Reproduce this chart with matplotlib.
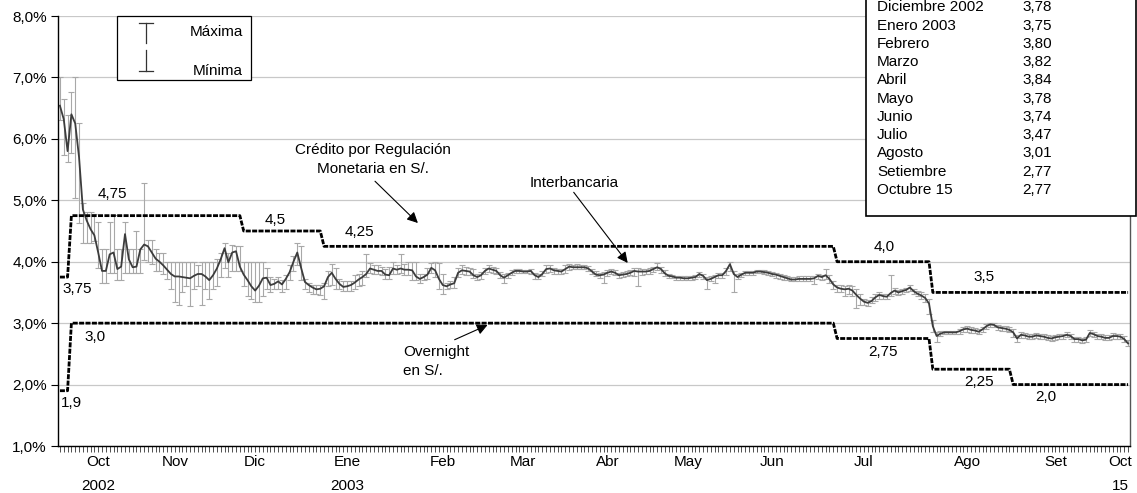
import numpy as np
import matplotlib
from matplotlib import pyplot as plt
from matplotlib.patches import Rectangle
from matplotlib.lines import Line2D

matplotlib.rcParams.update({'font.size': 11, 'font.family': ['Liberation Sans', 'DejaVu Sans']})

# tasa interbancaria promedio diaria (%), dias habiles desde mediados de set 2002
interbancaria = [
    6.54, 6.32, 5.80, 6.40, 6.25, 5.70, 4.85, 4.67, 4.53, 4.43,
    4.15, 3.85, 3.85, 4.12, 4.15, 3.88, 3.92, 4.45, 4.04, 3.91,
    3.92, 4.20, 4.28, 4.25, 4.15, 4.05, 4.00, 3.94, 3.87, 3.80,
    3.76, 3.76, 3.75, 3.74, 3.73, 3.77, 3.80, 3.80, 3.76, 3.70,
    3.78, 3.89, 4.04, 4.22, 3.99, 4.15, 4.17, 3.92, 3.79, 3.70,
    3.60, 3.53, 3.61, 3.73, 3.74, 3.62, 3.64, 3.68, 3.63, 3.72,
    3.83, 4.00, 4.15, 3.90, 3.67, 3.62, 3.58, 3.55, 3.56, 3.60,
    3.75, 3.82, 3.72, 3.64, 3.59, 3.60, 3.62, 3.66, 3.71, 3.75,
    3.80, 3.89, 3.87, 3.85, 3.85, 3.79, 3.78, 3.89, 3.87, 3.89,
    3.87, 3.87, 3.86, 3.76, 3.72, 3.75, 3.79, 3.90, 3.86, 3.72,
    3.62, 3.60, 3.63, 3.65, 3.82, 3.86, 3.85, 3.84, 3.78, 3.75,
    3.78, 3.85, 3.89, 3.87, 3.85, 3.78, 3.74, 3.78, 3.82, 3.85,
    3.85, 3.84, 3.84, 3.85, 3.78, 3.75, 3.80, 3.88, 3.89, 3.86,
    3.85, 3.84, 3.88, 3.92, 3.91, 3.91, 3.91, 3.91, 3.89, 3.84,
    3.79, 3.78, 3.79, 3.82, 3.84, 3.82, 3.78, 3.79, 3.80, 3.82,
    3.85, 3.84, 3.84, 3.84, 3.85, 3.88, 3.91, 3.88, 3.81, 3.77,
    3.76, 3.74, 3.74, 3.73, 3.73, 3.74, 3.75, 3.80, 3.77, 3.70,
    3.72, 3.75, 3.78, 3.78, 3.85, 3.96, 3.80, 3.75, 3.79, 3.82,
    3.82, 3.82, 3.84, 3.84, 3.83, 3.82, 3.80, 3.79, 3.77, 3.75,
    3.73, 3.71, 3.71, 3.72, 3.72, 3.72, 3.72, 3.73, 3.77, 3.75,
    3.78, 3.72, 3.63, 3.58, 3.56, 3.55, 3.56, 3.53, 3.46, 3.40,
    3.35, 3.33, 3.36, 3.42, 3.46, 3.44, 3.43, 3.49, 3.53, 3.50,
    3.52, 3.54, 3.58, 3.52, 3.48, 3.45, 3.41, 3.32, 2.95, 2.79,
    2.83, 2.85, 2.85, 2.85, 2.85, 2.87, 2.90, 2.91, 2.89, 2.88,
    2.86, 2.90, 2.95, 2.98, 2.97, 2.93, 2.92, 2.91, 2.89, 2.85,
    2.75, 2.81, 2.80, 2.78, 2.78, 2.80, 2.79, 2.78, 2.76, 2.75,
    2.77, 2.78, 2.79, 2.81, 2.79, 2.74, 2.74, 2.72, 2.73, 2.84,
    2.82, 2.79, 2.78, 2.76, 2.76, 2.79, 2.79, 2.78, 2.74, 2.67,
]

maxima = [
    7.00, 6.65, 6.39, 6.77, 7.00, 6.26, 4.95, 4.81, 4.81, 4.78,
    4.65, 4.21, 4.21, 4.65, 4.76, 4.21, 4.21, 4.65, 4.21, 4.21,
    4.50, 4.21, 5.28, 4.35, 4.35, 4.20, 4.15, 4.14, 4.00, 4.00,
    4.00, 4.00, 4.00, 4.00, 4.00, 4.00, 3.95, 4.00, 4.00, 4.00,
    4.00, 4.05, 4.15, 4.30, 4.15, 4.28, 4.25, 4.25, 4.00, 4.00,
    4.00, 4.00, 4.00, 4.00, 3.90, 3.75, 3.72, 3.75, 3.70, 3.78,
    3.95, 4.10, 4.30, 4.25, 3.72, 3.65, 3.62, 3.62, 3.62, 3.65,
    3.85, 3.96, 3.90, 3.72, 3.68, 3.68, 3.68, 3.78, 3.80, 3.85,
    4.12, 3.98, 3.95, 3.95, 3.92, 3.88, 3.92, 4.00, 3.95, 4.12,
    3.97, 4.00, 4.00, 4.00, 3.80, 3.80, 3.90, 3.98, 4.00, 3.98,
    3.80, 3.65, 3.68, 3.75, 3.90, 3.95, 3.92, 3.90, 3.88, 3.80,
    3.84, 3.90, 3.95, 3.92, 3.90, 3.84, 3.80, 3.82, 3.86, 3.88,
    3.88, 3.87, 3.87, 3.88, 3.82, 3.80, 3.85, 3.95, 3.95, 3.90,
    3.88, 3.88, 3.95, 3.97, 3.95, 3.96, 3.95, 3.94, 3.93, 3.88,
    3.85, 3.82, 3.84, 3.86, 3.88, 3.86, 3.82, 3.83, 3.85, 3.86,
    3.90, 3.90, 3.88, 3.88, 3.90, 3.92, 3.98, 3.92, 3.86, 3.80,
    3.79, 3.77, 3.77, 3.76, 3.76, 3.77, 3.78, 3.84, 3.80, 3.75,
    3.76, 3.78, 3.82, 3.82, 3.90, 4.00, 3.85, 3.80, 3.82, 3.85,
    3.85, 3.85, 3.86, 3.86, 3.86, 3.85, 3.84, 3.82, 3.80, 3.78,
    3.76, 3.75, 3.75, 3.76, 3.76, 3.76, 3.76, 3.77, 3.80, 3.78,
    3.88, 3.78, 3.68, 3.62, 3.62, 3.60, 3.62, 3.60, 3.55, 3.48,
    3.40, 3.37, 3.42, 3.48, 3.50, 3.48, 3.47, 3.78, 3.57, 3.54,
    3.56, 3.58, 3.62, 3.56, 3.52, 3.50, 3.47, 3.40, 3.05, 2.86,
    2.88, 2.88, 2.88, 2.88, 2.88, 2.90, 2.94, 2.95, 2.93, 2.92,
    2.90, 2.94, 2.99, 3.01, 3.00, 2.97, 2.96, 2.95, 2.93, 2.90,
    2.80, 2.85, 2.84, 2.82, 2.82, 2.84, 2.83, 2.82, 2.80, 2.79,
    2.81, 2.82, 2.83, 2.85, 2.83, 2.78, 2.78, 2.76, 2.77, 2.89,
    2.86, 2.83, 2.82, 2.80, 2.80, 2.84, 2.83, 2.82, 2.79, 2.72,
]

minimas = [
    6.30, 5.73, 5.62, 5.77, 5.04, 4.63, 4.30, 4.30, 4.30, 4.33,
    3.90, 3.66, 3.66, 3.82, 3.82, 3.70, 3.70, 3.82, 3.82, 3.82,
    3.82, 3.82, 4.03, 4.00, 3.96, 3.85, 3.85, 3.80, 3.72, 3.55,
    3.35, 3.30, 3.50, 3.60, 3.28, 3.55, 3.60, 3.30, 3.55, 3.40,
    3.55, 3.60, 3.75, 3.90, 3.75, 3.85, 3.85, 3.85, 3.60, 3.45,
    3.40, 3.35, 3.35, 3.45, 3.55, 3.50, 3.55, 3.55, 3.50, 3.55,
    3.70, 3.85, 3.95, 3.70, 3.55, 3.50, 3.48, 3.48, 3.46, 3.40,
    3.60, 3.62, 3.55, 3.55, 3.53, 3.52, 3.53, 3.55, 3.60, 3.62,
    3.75, 3.82, 3.80, 3.80, 3.78, 3.72, 3.72, 3.80, 3.80, 3.82,
    3.78, 3.78, 3.70, 3.70, 3.65, 3.70, 3.72, 3.82, 3.75, 3.55,
    3.47, 3.55, 3.58, 3.58, 3.75, 3.80, 3.78, 3.78, 3.74, 3.70,
    3.72, 3.80, 3.84, 3.82, 3.80, 3.74, 3.65, 3.74, 3.78, 3.82,
    3.82, 3.81, 3.81, 3.80, 3.72, 3.72, 3.76, 3.82, 3.84, 3.80,
    3.80, 3.80, 3.82, 3.86, 3.88, 3.88, 3.88, 3.88, 3.85, 3.80,
    3.76, 3.74, 3.66, 3.76, 3.80, 3.78, 3.74, 3.75, 3.76, 3.78,
    3.76, 3.60, 3.78, 3.80, 3.80, 3.84, 3.86, 3.82, 3.76, 3.74,
    3.73, 3.71, 3.71, 3.70, 3.70, 3.71, 3.72, 3.75, 3.72, 3.55,
    3.68, 3.66, 3.74, 3.74, 3.78, 3.85, 3.50, 3.72, 3.75, 3.79,
    3.79, 3.79, 3.81, 3.81, 3.80, 3.78, 3.76, 3.74, 3.72, 3.71,
    3.70, 3.68, 3.68, 3.68, 3.68, 3.68, 3.68, 3.64, 3.72, 3.70,
    3.72, 3.66, 3.56, 3.50, 3.50, 3.45, 3.48, 3.45, 3.25, 3.30,
    3.30, 3.28, 3.32, 3.36, 3.40, 3.40, 3.40, 3.45, 3.48, 3.46,
    3.48, 3.50, 3.53, 3.48, 3.44, 3.40, 3.35, 3.15, 2.85, 2.70,
    2.79, 2.82, 2.82, 2.82, 2.82, 2.83, 2.85, 2.86, 2.84, 2.84,
    2.82, 2.86, 2.90, 2.94, 2.93, 2.89, 2.88, 2.87, 2.85, 2.78,
    2.70, 2.76, 2.76, 2.74, 2.74, 2.76, 2.75, 2.74, 2.72, 2.71,
    2.73, 2.74, 2.75, 2.77, 2.74, 2.70, 2.70, 2.68, 2.69, 2.79,
    2.77, 2.75, 2.74, 2.72, 2.72, 2.75, 2.75, 2.74, 2.70, 2.62,
]

# tasas de referencia (dia de cambio, tasa)
crm_inicio = [0, 3, 48, 69, 203, 228]
crm_tasa = [3.75, 4.75, 4.5, 4.25, 4.0, 3.5]
overnight_inicio = [0, 3, 203, 228, 249]
overnight_tasa = [1.9, 3.0, 2.75, 2.25, 2.0]

meses = ['Oct', 'Nov', 'Dic', 'Ene', 'Feb', 'Mar', 'Abr', 'May', 'Jun', 'Jul', 'Ago', 'Set', 'Oct']
meses_pos = [10, 30, 51, 75, 100, 121, 143, 164, 186, 210, 237, 260, 277]
anios = ['2002', '2003', '15']
anios_pos = [10, 75, 277]

tabla_meses = ['Diciembre 2002', 'Enero 2003', 'Febrero', 'Marzo', 'Abril', 'Mayo',
               'Junio', 'Julio', 'Agosto', 'Setiembre', 'Octubre 15']
tabla_valores = ['3,78', '3,75', '3,80', '3,82', '3,84', '3,78', '3,74', '3,47', '3,01', '2,77', '2,77']

W, H = 1137, 493
rate = np.array(interbancaria)
n = len(rate)
dias = np.arange(n)
hi = np.maximum(np.array(maxima), rate)
lo = np.minimum(np.array(minimas), rate)
crm = np.repeat(crm_tasa, np.diff(crm_inicio + [n]))
ovn = np.repeat(overnight_tasa, np.diff(overnight_inicio + [n]))

fig = plt.figure(figsize=(W / 100, H / 100), dpi=100)
ax = fig.add_axes([58 / W, 47 / H, 1072 / W, 430 / H])

ax.errorbar(dias, rate, yerr=[rate - lo, hi - rate], fmt='none', ecolor='#a8a8a8',
            elinewidth=0.8, capsize=2.5, capthick=0.8, zorder=2)
ax.plot(dias, rate, color='#3c3c3c', lw=1.3, zorder=3)
for serie in (crm, ovn):
    ax.plot(dias, serie, color='black', lw=2.0, linestyle=(0, (1.8, 0.5)), zorder=4)

ax.set_xlim(-0.5, n - 0.5)
ax.set_ylim(1, 8)
ax.set_yticks(range(1, 9))
ax.set_yticklabels([f'{v},0%' for v in range(1, 9)])
ax.yaxis.grid(True, color='#c8c8c8', lw=0.9)
ax.set_axisbelow(True)
ax.set_xticks(dias)
ax.set_xticklabels([])
ax.tick_params(axis='x', length=4, width=0.6, color='#333333')
ax.tick_params(axis='y', length=5, width=0.8, pad=3)
ax.spines['top'].set_visible(False)
for s in ['left', 'bottom', 'right']:
    ax.spines[s].set_linewidth(1.0)
ax.spines['right'].set_color('#555555')

trans = ax.get_xaxis_transform()
for m, p in zip(meses, meses_pos):
    ax.text(p, -0.037, m, transform=trans, ha='center', va='center')
for a, p in zip(anios, anios_pos):
    ax.text(p, -0.093, a, transform=trans, ha='center', va='center')

# etiquetas de las tasas
etiquetas = [('4,75', 13.6, 5.10), ('4,5', 56.1, 4.68), ('4,25', 78.3, 4.48), ('3,75', 4.4, 3.56),
             ('3,0', 9.1, 2.77), ('1,9', 3.1, 1.70), ('4,0', 215.2, 4.24), ('3,5', 241.3, 3.75),
             ('2,75', 214.9, 2.53), ('2,25', 240.2, 2.04), ('2,0', 257.4, 1.80)]
for t, x, y in etiquetas:
    ax.text(x, y, t, ha='center', va='center')

arrow = dict(arrowstyle='-|>', color='black', lw=0.8, mutation_scale=16, shrinkA=0, shrinkB=0)
ax.text(81.7, 5.67, 'Crédito por Regulación\nMonetaria en S/.', ha='center', va='center', linespacing=1.45)
ax.annotate('', xy=(93.5, 4.63), xytext=(82.3, 5.31), arrowprops=arrow)
ax.text(134.2, 5.28, 'Interbancaria', ha='center', va='center')
ax.annotate('', xy=(148.3, 3.98), xytext=(134.2, 5.13), arrowprops=arrow)
ax.text(89.6, 2.38, 'Overnight\nen S/.', ha='left', va='center', linespacing=1.45)
ax.annotate('', xy=(111.7, 2.97), xytext=(103.1, 2.73), arrowprops=arrow)

# leyenda maxima / minima
fig.patches.append(Rectangle((117 / W, 1 - 80 / H), 134 / W, 64 / H, transform=fig.transFigure,
                             facecolor='white', edgecolor='black', lw=0.9, zorder=5))
lx = 145.5 / W
cw = 7 / W
for y0, y1, yc in [(23.3, 43, 23.3), (50, 70.7, 70.7)]:
    fig.lines.append(Line2D([lx, lx], [1 - y0 / H, 1 - y1 / H], transform=fig.transFigure,
                            color='#333333', lw=0.9, zorder=6))
    fig.lines.append(Line2D([lx - cw, lx + cw], [1 - yc / H, 1 - yc / H], transform=fig.transFigure,
                            color='#333333', lw=0.9, zorder=6))
fig.text(243 / W, 1 - 32 / H, 'Máxima', ha='right', va='center', zorder=7)
fig.text(243 / W, 1 - 71 / H, 'Mínima', ha='right', va='center', zorder=7)

# tabla de promedios mensuales
fig.patches.append(Rectangle((866 / W, 1 - 216 / H), 270 / W, 240 / H, transform=fig.transFigure,
                             facecolor='white', edgecolor='black', lw=1.2, zorder=5, clip_on=False))
for k, (m, v) in enumerate(zip(tabla_meses, tabla_valores)):
    yy = 1 - (7.3 + 18.27 * k) / H
    fig.text(877 / W, yy, m, ha='left', va='center', zorder=7)
    fig.text(1022 / W, yy, v, ha='left', va='center', zorder=7)

plt.savefig('out.png', dpi=100)
